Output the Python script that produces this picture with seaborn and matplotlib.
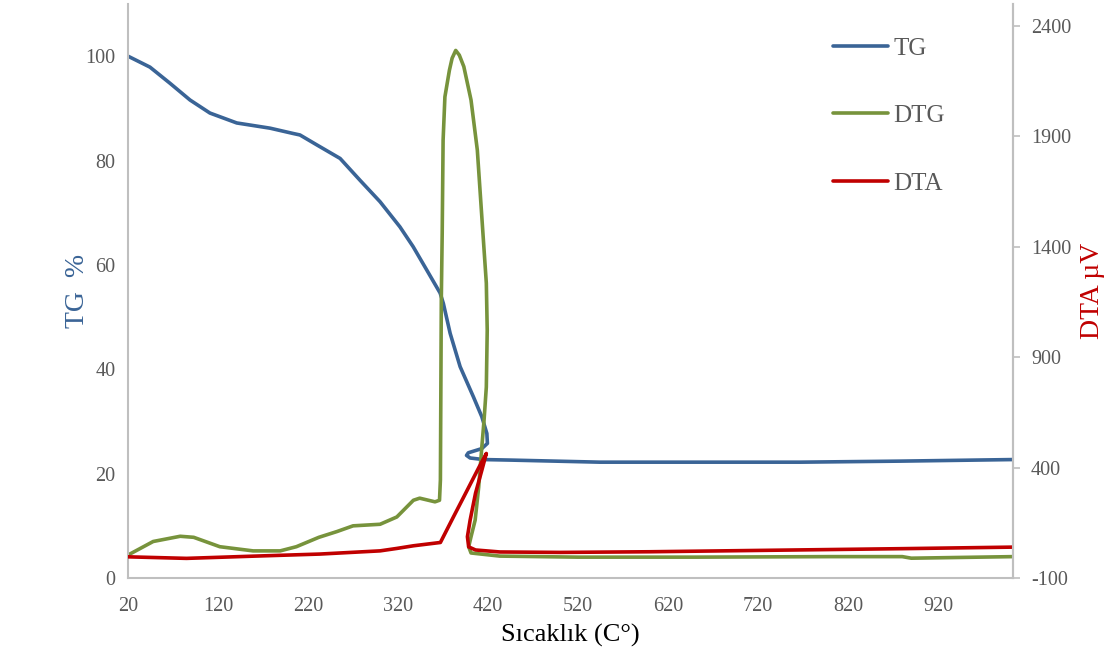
import numpy as np
import pandas as pd
import matplotlib
matplotlib.use('Agg')
import matplotlib.pyplot as plt
import seaborn as sns

sns.set_theme(style='white')
plt.rcParams['font.family'] = ['Liberation Serif', 'DejaVu Serif']

# TG (%), left axis - the curve folds back on itself near 420 C
tg_temp = [20, 44.4, 66.7, 88.9, 111, 140.8, 177.8, 203, 211, 229.7, 255.6, 277.8, 300, 322,
           336.7, 351.9, 366.7, 370.3, 377.8, 388.9, 403.7, 413, 418.6, 419.2, 413, 398, 396,
           400, 414.8, 444.4, 544, 660, 767, 878, 1003]
tg_val = [100, 97.9, 94.8, 91.6, 89.1, 87.2, 86.2, 85.2, 84.9, 83.0, 80.4, 76.2, 72.1, 67.3,
          63.5, 59.0, 54.6, 52.6, 46.9, 40.5, 34.7, 30.9, 27.7, 25.8, 24.8, 24.0, 23.5,
          23.0, 22.7, 22.6, 22.2, 22.2, 22.2, 22.4, 22.7]

# DTG, drawn against the left axis
dtg_temp = [20, 48, 78, 93, 122, 159, 189, 207, 232, 252, 270, 300, 318.6, 337, 344, 361, 366,
            367, 368, 369, 370, 372, 377, 380, 384, 388, 393, 401, 408, 413, 418, 419, 418, 415.5,
            413, 409.5, 405.6, 401, 398.4, 401, 433, 520, 650, 800, 880, 890, 1003]
dtg_val = [4.4, 7.0, 8.0, 7.8, 6.0, 5.2, 5.2, 6.0, 7.8, 8.9, 10.0, 10.3, 11.7, 14.9, 15.3, 14.6, 14.9,
           18.8, 53.3, 66.1, 83.9, 92.2, 97.3, 99.6, 101.1, 100.2, 98.0, 91.6, 82, 69.2, 56.5, 47.5,
           36.6, 30.3, 25.1, 17.4, 11.1, 7.9, 6.0, 4.8, 4.2, 4.0, 4.0, 4.1, 4.1, 3.8, 4.1]

# DTA (uV), right axis
dta_temp = [20, 85, 159, 233, 300, 318.6, 337, 367, 381.5, 393, 410, 418, 413, 406, 400, 397,
            398.4, 406, 433, 500, 600, 700, 800, 880, 1003]
dta_val = [-4, -11, -1, 8.5, 23, 34, 46, 61, 177, 268, 403, 464, 388, 284, 162, 87,
           41, 27, 18, 16, 19, 24, 29, 33, 40]

blue = '#3A6496'
green = '#77933C'
red = '#C00000'
grey = '#BFBFBF'
tick_col = '#595959'

tg = pd.DataFrame({'temp': tg_temp, 'val': tg_val})
dtg = pd.DataFrame({'temp': dtg_temp, 'val': dtg_val})
dta = pd.DataFrame({'temp': dta_temp, 'val': dta_val})

fig = plt.figure(figsize=(11.08, 6.51), dpi=100)
ax = fig.add_axes([0.1155, 0.1121, 0.7988, 0.8818])
ax2 = ax.twinx()

sns.lineplot(data=tg, x='temp', y='val', sort=False, estimator=None, ax=ax,
             color=blue, lw=2.6, label='TG')
sns.lineplot(data=dtg, x='temp', y='val', sort=False, estimator=None, ax=ax,
             color=green, lw=2.6, label='DTG')
sns.lineplot(data=dta, x='temp', y='val', sort=False, estimator=None, ax=ax2,
             color=red, lw=2.6, label='DTA')

ax.set_xlim(20, 1003)
ax.set_ylim(0, 110)
ax2.set_ylim(-100, 2500)
ax.set_xticks(np.arange(20, 1000, 100))
ax.set_yticks(np.arange(0, 101, 20))
ax2.set_yticks(np.arange(-100, 2401, 500))
ax2.set_yticklabels([str(v) for v in np.arange(-100, 2401, 500)])

for a in (ax, ax2):
    for s in a.spines.values():
        s.set_color(grey)
        s.set_linewidth(1.5)
    a.spines['top'].set_visible(False)
ax2.spines['left'].set_visible(False)
ax2.spines['bottom'].set_visible(False)

ax.tick_params(axis='y', labelsize=14.5, colors=tick_col, length=0, pad=9)
ax.tick_params(axis='x', labelsize=14.5, colors=tick_col, length=0, pad=14)
ax2.tick_params(axis='y', labelsize=14.5, colors=tick_col, length=5, width=1.2,
                direction='out', pad=8)
ax2.tick_params(axis='y', color=grey)

ax.set_xlabel('Sıcaklık (C°)', fontsize=19, color='black', labelpad=5)
ax.set_ylabel('TG  %', fontsize=20, color=blue, labelpad=-3)
ax2.set_ylabel('DTA µV', fontsize=20, color=red, labelpad=6)

ax.get_legend().remove()
ax2.get_legend().remove()
h1, l1 = ax.get_legend_handles_labels()
h2, l2 = ax2.get_legend_handles_labels()
leg = ax2.legend(h1 + h2, l1 + l2, loc='upper left', bbox_to_anchor=(0.752, 0.943),
                 bbox_transform=fig.transFigure, borderpad=0, borderaxespad=0,
                 frameon=False, fontsize=18, labelspacing=1.8, handlelength=2.2,
                 handletextpad=0.2, labelcolor=tick_col)

fig.savefig('out.png', dpi=100)
